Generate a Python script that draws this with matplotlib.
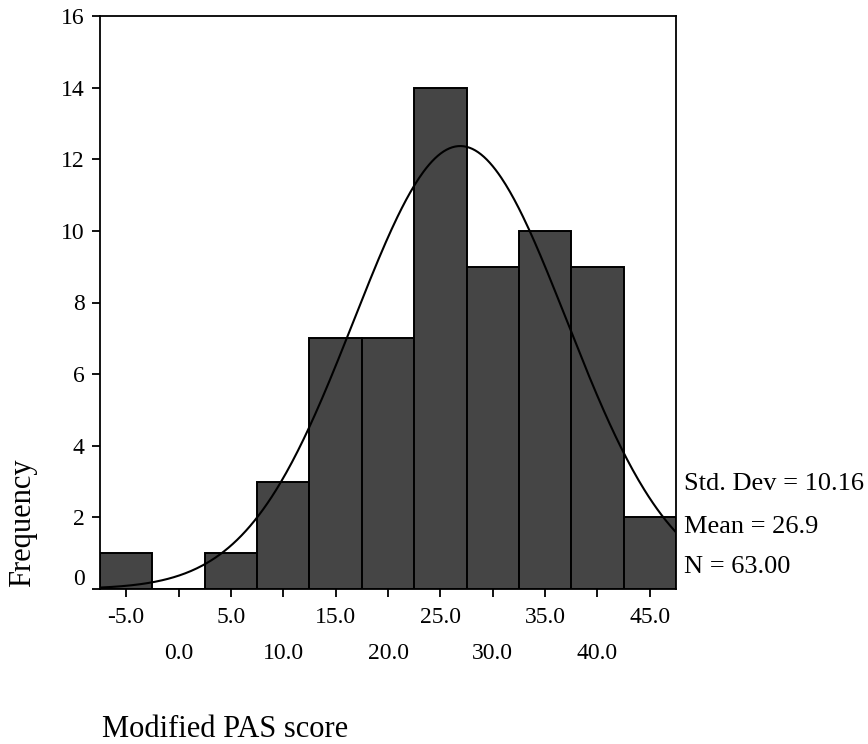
import numpy as np
import matplotlib
matplotlib.use("Agg")
import matplotlib.pyplot as plt
import matplotlib.transforms as mtransforms

plt.rcParams['font.family'] = ['Liberation Serif', 'DejaVu Serif']

# histogram bins (midpoints) and counts
bin_mids = [-5, 0, 5, 10, 15, 20, 25, 30, 35, 40, 45]
counts = [1, 0, 1, 3, 7, 7, 14, 9, 10, 9, 2]
bin_width = 5

std_dev = 10.16
mean = 26.9
n = 63

major_ticks = [-5, 5, 15, 25, 35, 45]
minor_ticks = [0, 10, 20, 30, 40]
y_ticks = [0, 2, 4, 6, 8, 10, 12, 14, 16]

fig = plt.figure(figsize=(8.68, 7.44), dpi=100)
ax = fig.add_axes([100 / 868, 1 - 589 / 744, 576 / 868, 573 / 744])

ax.bar(bin_mids, counts, width=bin_width, color='#454545',
       edgecolor='black', linewidth=1.4, zorder=2)

# normal curve scaled to the histogram
xs = np.linspace(-7.5, 47.5, 400)
ys = n * bin_width / (std_dev * np.sqrt(2 * np.pi)) * np.exp(-0.5 * ((xs - mean) / std_dev) ** 2)
ax.plot(xs, ys, color='black', linewidth=1.5, zorder=3)

ax.set_xlim(-7.5, 47.5)
ax.set_ylim(0, 16)

for side in ['left', 'right', 'top', 'bottom']:
    ax.spines[side].set_linewidth(1.3)

ax.set_xticks(major_ticks)
ax.set_xticklabels([f"{v:.1f}" for v in major_ticks])
ax.set_xticks(minor_ticks, minor=True)
ax.set_xticklabels([f"{v:.1f}" for v in minor_ticks], minor=True)
ax.tick_params(axis='x', which='major', length=6, width=1.3, pad=7, labelsize=17)
ax.tick_params(axis='x', which='minor', length=6, width=1.3, pad=33, labelsize=17)

ax.set_yticks(y_ticks)
ax.set_yticklabels([str(v) for v in y_ticks])
ax.tick_params(axis='y', length=6, width=1.3, pad=5, labelsize=17)
# the 0 label sits a bit higher in the original
lbl0 = ax.get_yticklabels()[0]
lbl0.set_transform(lbl0.get_transform() + mtransforms.ScaledTranslation(0, 12 / 100, fig.dpi_scale_trans))

ax.set_ylabel("Frequency", fontsize=22)
ax.yaxis.set_label_coords(-0.135, 0.115)
ax.yaxis.label.set_va('center')

ax.set_xlabel("Modified PAS score", fontsize=22, ha='left')
ax.xaxis.set_label_coords(0.003, -0.246)
ax.xaxis.label.set_va('center')

stats = [f"Std. Dev = {std_dev:.2f}", f"Mean = {mean:.1f}", f"N = {n:.2f}"]
stat_y = [0.183, 0.108, 0.038]
for s, yy in zip(stats, stat_y):
    ax.text(1.014, yy, s, transform=ax.transAxes, fontsize=19, va='center', ha='left')

fig.savefig("out.png", dpi=100)
